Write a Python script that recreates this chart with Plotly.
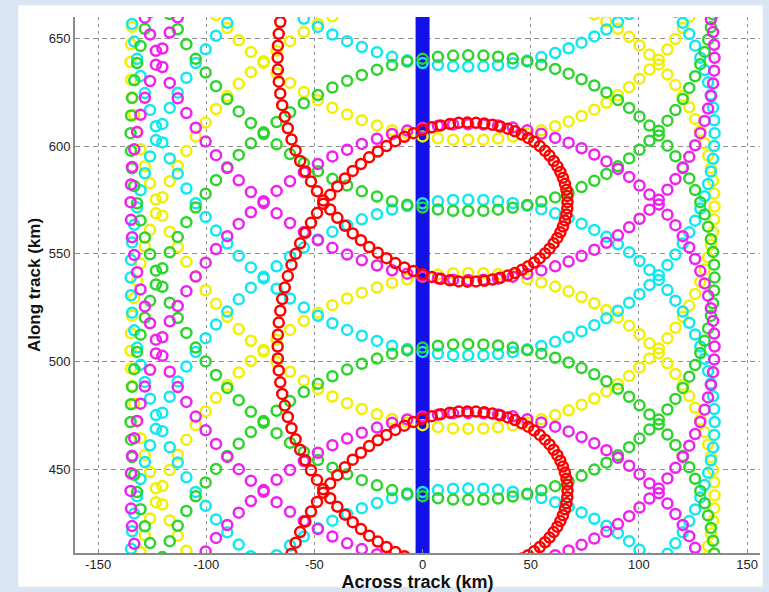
import plotly.graph_objects as go

# ---------------- data: footprint centres (across-track km, along-track km) ----------------
nadir_x = [0, 0]
nadir_y = [405, 665]

green_a = [(-120.3,409.3),(-116.9,416.7),(-113.2,423.8),(-109.2,430.7),(-104.9,437.5),(-100.3,443.9),(-95.5,450.2),(-90.3,456.2),(-85.0,461.9),(-79.4,467.3),(-73.5,472.4),(-67.5,477.2),(-61.3,481.7),(-54.9,485.9),(-48.4,489.7),(-41.7,493.2),(-34.9,496.3),(-28.1,499.0),(-21.1,501.4),(-14.1,503.6),(-7.1,505.2),(0.0,506.5),(7.1,507.4),(14.1,508.0),(21.1,508.1),(28.1,508.0),(34.9,507.5),(41.7,506.6),(48.4,505.3),(54.9,503.7),(61.3,501.8),(67.5,499.6),(73.5,497.0),(79.4,494.1),(85.0,490.9),(90.3,487.4),(95.5,483.7),(100.3,479.7),(104.9,475.5),(109.2,470.9),(113.2,466.2),(116.9,461.3),(120.3,456.2),(123.3,451.0),(126.0,445.6),(128.4,440.0),(130.4,434.3),(132.0,428.6),(133.3,422.8),(134.3,416.9),(134.8,411.0)]
green_b = [(-123.3,408.2),(-126.0,415.8),(-128.4,423.6),(-130.4,431.5),(-132.0,439.5),(-133.3,447.5),(-134.3,455.7),(-134.8,463.8)]
green_c = [(-135.0,472.0),(-134.8,480.2),(-134.3,488.3),(-133.3,496.5),(-132.0,504.5),(-130.4,512.5),(-128.4,520.4),(-126.0,528.2),(-123.3,535.8),(-120.3,543.3),(-116.9,550.7),(-113.2,557.8),(-109.2,564.7),(-104.9,571.5),(-100.3,577.9),(-95.5,584.2),(-90.3,590.2),(-85.0,595.9),(-79.4,601.3),(-73.5,606.4),(-67.5,611.2),(-61.3,615.7),(-54.9,619.9),(-48.4,623.7),(-41.7,627.2),(-34.9,630.3),(-28.1,633.0),(-21.1,635.4),(-14.1,637.6),(-7.1,639.2),(0.0,640.5),(7.1,641.4),(14.1,642.0),(21.1,642.1),(28.1,642.0),(34.9,641.5),(41.7,640.6),(48.4,639.3),(54.9,637.7),(61.3,635.8),(67.5,633.6),(73.5,631.0),(79.4,628.1),(85.0,624.9),(90.3,621.4),(95.5,617.7),(100.3,613.7),(104.9,609.5),(109.2,604.9),(113.2,600.2),(116.9,595.3),(120.3,590.2),(123.3,585.0),(126.0,579.6),(128.4,574.0),(130.4,568.3),(132.0,562.6),(133.3,556.8),(134.3,550.9),(134.8,545.0),(135.0,539.0),(134.8,533.0),(134.3,527.1),(133.3,521.2),(132.0,515.4),(130.4,509.7),(128.4,504.0),(126.0,498.4),(123.3,493.0),(120.3,487.8),(116.9,482.7),(113.2,477.8),(109.2,473.1),(104.9,468.5),(100.3,464.3),(95.5,460.3),(90.3,456.6),(85.0,453.1),(79.4,449.9),(73.5,447.0),(67.5,444.4),(61.3,442.2),(54.9,440.3),(48.4,438.7),(41.7,437.4),(34.9,436.5),(28.1,436.0),(21.1,435.9),(14.1,436.0),(7.1,436.6),(0.0,437.5),(-7.1,438.8),(-14.1,440.4),(-21.1,442.6),(-28.1,445.0),(-34.9,447.7),(-41.7,450.8),(-48.4,454.3),(-54.9,458.1),(-61.3,462.3),(-67.5,466.8),(-73.5,471.6),(-79.4,476.7),(-85.0,482.1),(-90.3,487.8),(-95.5,493.8),(-100.3,500.1),(-104.9,506.5),(-109.2,513.3),(-113.2,520.2),(-116.9,527.3),(-120.3,534.7),(-123.3,542.2),(-126.0,549.8),(-128.4,557.6),(-130.4,565.5),(-132.0,573.5),(-133.3,581.5),(-134.3,589.7),(-134.8,597.8)]
green_d = [(-135.0,606.0),(-134.8,614.2),(-134.3,622.3),(-133.3,630.5),(-132.0,638.5),(-130.4,646.5),(-128.4,654.4),(-126.0,662.2)]
green_e = [(134.3,661.1),(133.3,655.2),(132.0,649.4),(130.4,643.7),(128.4,638.0),(126.0,632.4),(123.3,627.0),(120.3,621.8),(116.9,616.7),(113.2,611.8),(109.2,607.1),(104.9,602.5),(100.3,598.3),(95.5,594.3),(90.3,590.6),(85.0,587.1),(79.4,583.9),(73.5,581.0),(67.5,578.4),(61.3,576.2),(54.9,574.3),(48.4,572.7),(41.7,571.4),(34.9,570.5),(28.1,570.0),(21.1,569.9),(14.1,570.0),(7.1,570.6),(0.0,571.5),(-7.1,572.8),(-14.1,574.4),(-21.1,576.6),(-28.1,579.0),(-34.9,581.7),(-41.7,584.8),(-48.4,588.3),(-54.9,592.1),(-61.3,596.3),(-67.5,600.8),(-73.5,605.6),(-79.4,610.7),(-85.0,616.1),(-90.3,621.8),(-95.5,627.8),(-100.3,634.1),(-104.9,640.5),(-109.2,647.3),(-113.2,654.2),(-116.9,661.3)]

magenta_a = [(-100.3,411.9),(-95.5,418.2),(-90.3,424.2),(-85.0,429.9),(-79.4,435.3),(-73.5,440.4),(-67.5,445.2),(-61.3,449.7),(-54.9,453.9),(-48.4,457.7),(-41.7,461.2),(-34.9,464.3),(-28.1,467.0),(-21.1,469.4),(-14.1,471.6),(-7.1,473.2),(0.0,474.5),(7.1,475.4),(14.1,476.0),(21.1,476.1),(28.1,476.0),(34.9,475.5),(41.7,474.6),(48.4,473.3),(54.9,471.7),(61.3,469.8),(67.5,467.6),(73.5,465.0),(79.4,462.1),(85.0,458.9),(90.3,455.4),(95.5,451.7),(100.3,447.7),(104.9,443.5),(109.2,438.9),(113.2,434.2),(116.9,429.3),(120.3,424.2),(123.3,419.0),(126.0,413.6),(128.4,408.0)]
magenta_b = [(-132.0,407.5),(-133.3,415.5),(-134.3,423.7),(-134.8,431.8)]
magenta_c = [(-135.0,440.0),(-134.8,448.2),(-134.3,456.3),(-133.3,464.5),(-132.0,472.5),(-130.4,480.5),(-128.4,488.4),(-126.0,496.2),(-123.3,503.8),(-120.3,511.3),(-116.9,518.7),(-113.2,525.8),(-109.2,532.7),(-104.9,539.5),(-100.3,545.9),(-95.5,552.2),(-90.3,558.2),(-85.0,563.9),(-79.4,569.3),(-73.5,574.4),(-67.5,579.2),(-61.3,583.7),(-54.9,587.9),(-48.4,591.7),(-41.7,595.2),(-34.9,598.3),(-28.1,601.0),(-21.1,603.4),(-14.1,605.6),(-7.1,607.2),(0.0,608.5),(7.1,609.4),(14.1,610.0),(21.1,610.1),(28.1,610.0),(34.9,609.5),(41.7,608.6),(48.4,607.3),(54.9,605.7),(61.3,603.8),(67.5,601.6),(73.5,599.0),(79.4,596.1),(85.0,592.9),(90.3,589.4),(95.5,585.7),(100.3,581.7),(104.9,577.5),(109.2,572.9),(113.2,568.2),(116.9,563.3),(120.3,558.2),(123.3,553.0),(126.0,547.6),(128.4,542.0),(130.4,536.3),(132.0,530.6),(133.3,524.8),(134.3,518.9),(134.8,513.0),(135.0,507.0),(134.8,501.0),(134.3,495.1),(133.3,489.2),(132.0,483.4),(130.4,477.7),(128.4,472.0),(126.0,466.4),(123.3,461.0),(120.3,455.8),(116.9,450.7),(113.2,445.8),(109.2,441.1),(104.9,436.5),(100.3,432.3),(95.5,428.3),(90.3,424.6),(85.0,421.1),(79.4,417.9),(73.5,415.0),(67.5,412.4),(61.3,410.2),(54.9,408.3),(-14.1,408.4),(-21.1,410.6),(-28.1,413.0),(-34.9,415.7),(-41.7,418.8),(-48.4,422.3),(-54.9,426.1),(-61.3,430.3),(-67.5,434.8),(-73.5,439.6),(-79.4,444.7),(-85.0,450.1),(-90.3,455.8),(-95.5,461.8),(-100.3,468.1),(-104.9,474.5),(-109.2,481.3),(-113.2,488.2),(-116.9,495.3),(-120.3,502.7),(-123.3,510.2),(-126.0,517.8),(-128.4,525.6),(-130.4,533.5),(-132.0,541.5),(-133.3,549.5),(-134.3,557.7),(-134.8,565.8)]
magenta_d = [(-135.0,574.0),(-134.8,582.2),(-134.3,590.3),(-133.3,598.5),(-132.0,606.5),(-130.4,614.5),(-128.4,622.4),(-126.0,630.2),(-123.3,637.8),(-120.3,645.3),(-116.9,652.7),(-113.2,659.8)]
magenta_e = [(133.3,658.8),(134.3,652.9),(134.8,647.0),(135.0,641.0),(134.8,635.0),(134.3,629.1),(133.3,623.2),(132.0,617.4),(130.4,611.7),(128.4,606.0),(126.0,600.4),(123.3,595.0),(120.3,589.8),(116.9,584.7),(113.2,579.8),(109.2,575.1),(104.9,570.5),(100.3,566.3),(95.5,562.3),(90.3,558.6),(85.0,555.1),(79.4,551.9),(73.5,549.0),(67.5,546.4),(61.3,544.2),(54.9,542.3),(48.4,540.7),(41.7,539.4),(34.9,538.5),(28.1,538.0),(21.1,537.9),(14.1,538.0),(7.1,538.6),(0.0,539.5),(-7.1,540.8),(-14.1,542.4),(-21.1,544.6),(-28.1,547.0),(-34.9,549.7),(-41.7,552.8),(-48.4,556.3),(-54.9,560.1),(-61.3,564.3),(-67.5,568.8),(-73.5,573.6),(-79.4,578.7),(-85.0,584.1),(-90.3,589.8),(-95.5,595.8),(-100.3,602.1),(-104.9,608.5),(-109.2,615.3),(-113.2,622.2),(-116.9,629.3),(-120.3,636.7),(-123.3,644.2),(-126.0,651.8),(-128.4,659.6)]

cyan_a = [(-67.5,410.2),(-61.3,414.7),(-54.9,418.9),(-48.4,422.7),(-41.7,426.2),(-34.9,429.3),(-28.1,432.0),(-21.1,434.4),(-14.1,436.6),(-7.1,438.2),(0.0,439.5),(7.1,440.4),(14.1,441.0),(21.1,441.1),(28.1,441.0),(34.9,440.5),(41.7,439.6),(48.4,438.3),(54.9,436.7),(61.3,434.8),(67.5,432.6),(73.5,430.0),(79.4,427.1),(85.0,423.9),(90.3,420.4),(95.5,416.7),(100.3,412.7),(104.9,408.5)]
cyan_b = [(-134.8,413.2),(-134.3,421.3),(-133.3,429.5),(-132.0,437.5),(-130.4,445.5),(-128.4,453.4),(-126.0,461.2),(-123.3,468.8),(-120.3,476.3),(-116.9,483.7),(-113.2,490.8),(-109.2,497.7),(-104.9,504.5),(-100.3,510.9),(-95.5,517.2),(-90.3,523.2),(-85.0,528.9),(-79.4,534.3),(-73.5,539.4),(-67.5,544.2),(-61.3,548.7),(-54.9,552.9),(-48.4,556.7),(-41.7,560.2),(-34.9,563.3),(-28.1,566.0),(-21.1,568.4),(-14.1,570.6),(-7.1,572.2),(0.0,573.5),(7.1,574.4),(14.1,575.0),(21.1,575.1),(28.1,575.0),(34.9,574.5),(41.7,573.6),(48.4,572.3),(54.9,570.7),(61.3,568.8),(67.5,566.6),(73.5,564.0),(79.4,561.1),(85.0,557.9),(90.3,554.4),(95.5,550.7),(100.3,546.7),(104.9,542.5),(109.2,537.9),(113.2,533.2),(116.9,528.3),(120.3,523.2),(123.3,518.0),(126.0,512.6),(128.4,507.0),(130.4,501.3),(132.0,495.6),(133.3,489.8),(134.3,483.9),(134.8,478.0),(135.0,472.0),(134.8,466.0),(134.3,460.1),(133.3,454.2),(132.0,448.4),(130.4,442.7),(128.4,437.0),(126.0,431.4),(123.3,426.0),(120.3,420.8),(116.9,415.7),(113.2,410.8)]
cyan_c = [(-79.4,409.7),(-85.0,415.1),(-90.3,420.8),(-95.5,426.8),(-100.3,433.1),(-104.9,439.5),(-109.2,446.3),(-113.2,453.2),(-116.9,460.3),(-120.3,467.7),(-123.3,475.2),(-126.0,482.8),(-128.4,490.6),(-130.4,498.5),(-132.0,506.5),(-133.3,514.5),(-134.3,522.7),(-134.8,530.8)]
cyan_d = [(-135.0,539.0),(-134.8,547.2),(-134.3,555.3),(-133.3,563.5),(-132.0,571.5),(-130.4,579.5),(-128.4,587.4),(-126.0,595.2),(-123.3,602.8),(-120.3,610.3),(-116.9,617.7),(-113.2,624.8),(-109.2,631.7),(-104.9,638.5),(-100.3,644.9),(-95.5,651.2),(-90.3,657.2),(-85.0,662.9)]
cyan_e = [(116.9,662.3),(120.3,657.2),(123.3,652.0),(126.0,646.6),(128.4,641.0),(130.4,635.3),(132.0,629.6),(133.3,623.8),(134.3,617.9),(134.8,612.0),(135.0,606.0),(134.8,600.0),(134.3,594.1),(133.3,588.2),(132.0,582.4),(130.4,576.7),(128.4,571.0),(126.0,565.4),(123.3,560.0),(120.3,554.8),(116.9,549.7),(113.2,544.8),(109.2,540.1),(104.9,535.5),(100.3,531.3),(95.5,527.3),(90.3,523.6),(85.0,520.1),(79.4,516.9),(73.5,514.0),(67.5,511.4),(61.3,509.2),(54.9,507.3),(48.4,505.7),(41.7,504.4),(34.9,503.5),(28.1,503.0),(21.1,502.9),(14.1,503.0),(7.1,503.6),(0.0,504.5),(-7.1,505.8),(-14.1,507.4),(-21.1,509.6),(-28.1,512.0),(-34.9,514.7),(-41.7,517.8),(-48.4,521.3),(-54.9,525.1),(-61.3,529.3),(-67.5,533.8),(-73.5,538.6),(-79.4,543.7),(-85.0,549.1),(-90.3,554.8),(-95.5,560.8),(-100.3,567.1),(-104.9,573.5),(-109.2,580.3),(-113.2,587.2),(-116.9,594.3),(-120.3,601.7),(-123.3,609.2),(-126.0,616.8),(-128.4,624.6),(-130.4,632.5),(-132.0,640.5),(-133.3,648.5),(-134.3,656.7),(-134.8,664.8)]
cyan_f = [(95.5,661.3),(90.3,657.6),(85.0,654.1),(79.4,650.9),(73.5,648.0),(67.5,645.4),(61.3,643.2),(54.9,641.3),(48.4,639.7),(41.7,638.4),(34.9,637.5),(28.1,637.0),(21.1,636.9),(14.1,637.0),(7.1,637.6),(0.0,638.5),(-7.1,639.8),(-14.1,641.4),(-21.1,643.6),(-28.1,646.0),(-34.9,648.7),(-41.7,651.8),(-48.4,655.3),(-54.9,659.1),(-61.3,663.3)]

yellow_a = [(-130.4,411.5),(-128.4,419.4),(-126.0,427.2),(-123.3,434.8),(-120.3,442.3),(-116.9,449.7),(-113.2,456.8),(-109.2,463.7),(-104.9,470.5),(-100.3,476.9),(-95.5,483.2),(-90.3,489.2),(-85.0,494.9),(-79.4,500.3),(-73.5,505.4),(-67.5,510.2),(-61.3,514.7),(-54.9,518.9),(-48.4,522.7),(-41.7,526.2),(-34.9,529.3),(-28.1,532.0),(-21.1,534.4),(-14.1,536.6),(-7.1,538.2),(0.0,539.5),(7.1,540.4),(14.1,541.0),(21.1,541.1),(28.1,541.0),(34.9,540.5),(41.7,539.6),(48.4,538.3),(54.9,536.7),(61.3,534.8),(67.5,532.6),(73.5,530.0),(79.4,527.1),(85.0,523.9),(90.3,520.4),(95.5,516.7),(100.3,512.7),(104.9,508.5),(109.2,503.9),(113.2,499.2),(116.9,494.3),(120.3,489.2),(123.3,484.0),(126.0,478.6),(128.4,473.0),(130.4,467.3),(132.0,461.6),(133.3,455.8),(134.3,449.9),(134.8,444.0),(135.0,438.0),(134.8,432.0),(134.3,426.1),(133.3,420.2),(132.0,414.4),(130.4,408.7)]
yellow_b = [(-109.2,412.3),(-113.2,419.2),(-116.9,426.3),(-120.3,433.7),(-123.3,441.2),(-126.0,448.8),(-128.4,456.6),(-130.4,464.5),(-132.0,472.5),(-133.3,480.5),(-134.3,488.7),(-134.8,496.8)]
yellow_c = [(-135.0,505.0),(-134.8,513.2),(-134.3,521.3),(-133.3,529.5),(-132.0,537.5),(-130.4,545.5),(-128.4,553.4),(-126.0,561.2),(-123.3,568.8),(-120.3,576.3),(-116.9,583.7),(-113.2,590.8),(-109.2,597.7),(-104.9,604.5),(-100.3,610.9),(-95.5,617.2),(-90.3,623.2),(-85.0,628.9),(-79.4,634.3),(-73.5,639.4),(-67.5,644.2),(-61.3,648.7),(-54.9,652.9),(-48.4,656.7),(-41.7,660.2),(-34.9,663.3)]
yellow_d = [(79.4,661.1),(85.0,657.9),(90.3,654.4),(95.5,650.7),(100.3,646.7),(104.9,642.5),(109.2,637.9),(113.2,633.2),(116.9,628.3),(120.3,623.2),(123.3,618.0),(126.0,612.6),(128.4,607.0),(130.4,601.3),(132.0,595.6),(133.3,589.8),(134.3,583.9),(134.8,578.0),(135.0,572.0),(134.8,566.0),(134.3,560.1),(133.3,554.2),(132.0,548.4),(130.4,542.7),(128.4,537.0),(126.0,531.4),(123.3,526.0),(120.3,520.8),(116.9,515.7),(113.2,510.8),(109.2,506.1),(104.9,501.5),(100.3,497.3),(95.5,493.3),(90.3,489.6),(85.0,486.1),(79.4,482.9),(73.5,480.0),(67.5,477.4),(61.3,475.2),(54.9,473.3),(48.4,471.7),(41.7,470.4),(34.9,469.5),(28.1,469.0),(21.1,468.9),(14.1,469.0),(7.1,469.6),(0.0,470.5),(-7.1,471.8),(-14.1,473.4),(-21.1,475.6),(-28.1,478.0),(-34.9,480.7),(-41.7,483.8),(-48.4,487.3),(-54.9,491.1),(-61.3,495.3),(-67.5,499.8),(-73.5,504.6),(-79.4,509.7),(-85.0,515.1),(-90.3,520.8),(-95.5,526.8),(-100.3,533.1),(-104.9,539.5),(-109.2,546.3),(-113.2,553.2),(-116.9,560.3),(-120.3,567.7),(-123.3,575.2),(-126.0,582.8),(-128.4,590.6),(-130.4,598.5),(-132.0,606.5),(-133.3,614.5),(-134.3,622.7),(-134.8,630.8)]
yellow_e = [(-135.0,639.0),(-134.8,647.2),(-134.3,655.3),(-133.3,663.5)]
yellow_f = [(123.3,660.0),(120.3,654.8),(116.9,649.7),(113.2,644.8),(109.2,640.1),(104.9,635.5),(100.3,631.3),(95.5,627.3),(90.3,623.6),(85.0,620.1),(79.4,616.9),(73.5,614.0),(67.5,611.4),(61.3,609.2),(54.9,607.3),(48.4,605.7),(41.7,604.4),(34.9,603.5),(28.1,603.0),(21.1,602.9),(14.1,603.0),(7.1,603.6),(0.0,604.5),(-7.1,605.8),(-14.1,607.4),(-21.1,609.6),(-28.1,612.0),(-34.9,614.7),(-41.7,617.8),(-48.4,621.3),(-54.9,625.1),(-61.3,629.3),(-67.5,633.8),(-73.5,638.6),(-79.4,643.7),(-85.0,649.1),(-90.3,654.8),(-95.5,660.8)]

red_a = [(-67.0,507.0),(-66.9,512.5),(-66.5,518.1),(-65.8,523.6),(-64.9,529.0),(-63.7,534.4),(-62.3,539.7),(-60.6,544.9),(-58.7,550.0),(-56.6,554.9),(-54.2,559.8),(-51.6,564.4),(-48.8,568.9),(-45.9,573.2),(-42.7,577.4),(-39.4,581.3),(-35.9,585.0),(-32.3,588.5),(-28.5,591.7),(-24.7,594.8),(-20.7,597.5),(-16.7,600.0),(-12.6,602.3),(-8.4,604.3),(-4.2,606.0),(0.0,607.5),(4.2,608.7),(8.4,609.6),(12.6,610.3),(16.7,610.8),(20.7,610.9),(24.7,610.8),(28.5,610.5),(32.3,609.9),(35.9,609.1),(39.4,608.1),(42.7,606.9),(45.9,605.4),(48.8,603.8),(51.6,602.0),(54.2,600.0),(56.6,597.8),(58.7,595.6),(60.6,593.1),(62.3,590.6),(63.7,588.0),(64.9,585.3),(65.8,582.5),(66.5,579.7),(66.9,576.9),(67.0,574.0),(66.9,571.1),(66.5,568.3),(65.8,565.5),(64.9,562.7),(63.7,560.0),(62.3,557.4),(60.6,554.9),(58.7,552.4),(56.6,550.2),(54.2,548.0),(51.6,546.0),(48.8,544.2),(45.9,542.6),(42.7,541.1),(39.4,539.9),(35.9,538.9),(32.3,538.1),(28.5,537.5),(24.7,537.2),(20.7,537.1),(16.7,537.2),(12.6,537.7),(8.4,538.4),(4.2,539.3),(0.0,540.5),(-4.2,542.0),(-8.4,543.7),(-12.6,545.7),(-16.7,548.0),(-20.7,550.5),(-24.7,553.2),(-28.5,556.3),(-32.3,559.5),(-35.9,563.0),(-39.4,566.7),(-42.7,570.6),(-45.9,574.8),(-48.8,579.1),(-51.6,583.6),(-54.2,588.2),(-56.6,593.1),(-58.7,598.0),(-60.6,603.1),(-62.3,608.3),(-63.7,613.6),(-64.9,619.0),(-65.8,624.4),(-66.5,629.9),(-66.9,635.5),(-67.0,641.0),(-66.9,646.6),(-66.5,652.1),(-65.8,657.6),(-64.9,663.0)]
red_b = [(-60.6,410.9),(-58.7,416.0),(-56.6,420.9),(-54.2,425.8),(-51.6,430.4),(-48.8,434.9),(-45.9,439.2),(-42.7,443.4),(-39.4,447.3),(-35.9,451.0),(-32.3,454.5),(-28.5,457.7),(-24.7,460.8),(-20.7,463.5),(-16.7,466.0),(-12.6,468.3),(-8.4,470.3),(-4.2,472.0),(0.0,473.5),(4.2,474.7),(8.4,475.6),(12.6,476.3),(16.7,476.8),(20.7,476.9),(24.7,476.8),(28.5,476.5),(32.3,475.9),(35.9,475.1),(39.4,474.1),(42.7,472.9),(45.9,471.4),(48.8,469.8),(51.6,468.0),(54.2,466.0),(56.6,463.8),(58.7,461.6),(60.6,459.1),(62.3,456.6),(63.7,454.0),(64.9,451.3),(65.8,448.5),(66.5,445.7),(66.9,442.9),(67.0,440.0),(66.9,437.1),(66.5,434.3),(65.8,431.5),(64.9,428.7),(63.7,426.0),(62.3,423.4),(60.6,420.9),(58.7,418.4),(56.6,416.2),(54.2,414.0),(51.6,412.0),(48.8,410.2),(45.9,408.6)]
red_c = [(-4.2,408.0),(-8.4,409.7),(-12.6,411.7),(-16.7,414.0),(-20.7,416.5),(-24.7,419.2),(-28.5,422.3),(-32.3,425.5),(-35.9,429.0),(-39.4,432.7),(-42.7,436.6),(-45.9,440.8),(-48.8,445.1),(-51.6,449.6),(-54.2,454.2),(-56.6,459.1),(-58.7,464.0),(-60.6,469.1),(-62.3,474.3),(-63.7,479.6),(-64.9,485.0),(-65.8,490.4),(-66.5,495.9),(-66.9,501.5)]

x_ticks = [-150, -100, -50, 0, 50, 100, 150]
x_tick_text = ["-150", "-100", "-50", "0", "50", "100", "150"]
y_ticks = [450, 500, 550, 600, 650]
y_tick_text = ["450", "500", "550", "600", "650"]

# ---------------- figure ----------------
FONT = "Arial, Liberation Sans, Helvetica, sans-serif"
SLIDE_BLUE = "#d9e5f3"
fig = go.Figure()

fig.add_trace(go.Scatter(x=nadir_x, y=nadir_y, mode="lines",
                         line=dict(color="#1212e8", width=14), hoverinfo="skip"))

def add_markers(groups, color):
    xs = [p[0] for g in groups for p in g]
    ys = [p[1] for g in groups for p in g]
    fig.add_trace(go.Scatter(x=xs, y=ys, mode="markers",
                             marker=dict(symbol="circle-open", size=10, color=color,
                                         line=dict(width=2.5, color=color))))

add_markers([yellow_a, yellow_b, yellow_c, yellow_d, yellow_e, yellow_f], "#f0f000")
add_markers([cyan_a, cyan_b, cyan_c, cyan_d, cyan_e, cyan_f], "#10e8f0")
add_markers([green_a, green_b, green_c, green_d, green_e], "#2cd42c")
add_markers([magenta_a, magenta_b, magenta_c, magenta_d, magenta_e], "#f020f0")
add_markers([red_a, red_b, red_c], "#ff0000")

# white panel on the light blue slide background
fig.add_shape(type="rect", xref="paper", yref="paper",
              x0=-0.083, x1=1.004, y0=-0.063, y1=1.022,
              fillcolor="white", line=dict(width=0), layer="below")

axis_common = dict(showline=True, linecolor="#8a8a8a", linewidth=2,
                   ticks="inside", ticklen=4, tickcolor="#8a8a8a",
                   showgrid=True, gridcolor="#8f8f8f", gridwidth=1.3,
                   zeroline=False, fixedrange=True, automargin=False,
                   tickfont=dict(family=FONT, size=13, color="#222222"))

fig.update_layout(
    width=769, height=592,
    margin=dict(l=75, r=9, t=17, b=39),
    paper_bgcolor=SLIDE_BLUE, plot_bgcolor="white",
    showlegend=False,
    xaxis=dict(range=[-160.7, 156.0], tickmode="array", tickvals=x_ticks, ticktext=x_tick_text,
               griddash="3px,4px", ticklabelstandoff=-2,
               title=dict(text="<b>Across track (km)</b>", standoff=0,
                          font=dict(family=FONT, size=18, color="#111111")),
               **axis_common),
    yaxis=dict(range=[411.2, 659.9], tickmode="array", tickvals=y_ticks, ticktext=y_tick_text,
               griddash="5px,4px",
               title=dict(text="<b>Along track (km)</b>", standoff=4,
                          font=dict(family=FONT, size=17, color="#111111")),
               **axis_common),
)

fig.write_html(
    "out.html",
    config={"displayModeBar": False},
    post_script="document.body.style.margin='0';document.body.style.padding='0';"
                "document.body.style.background='" + SLIDE_BLUE + "';"
                "document.body.style.overflow='hidden';",
)
